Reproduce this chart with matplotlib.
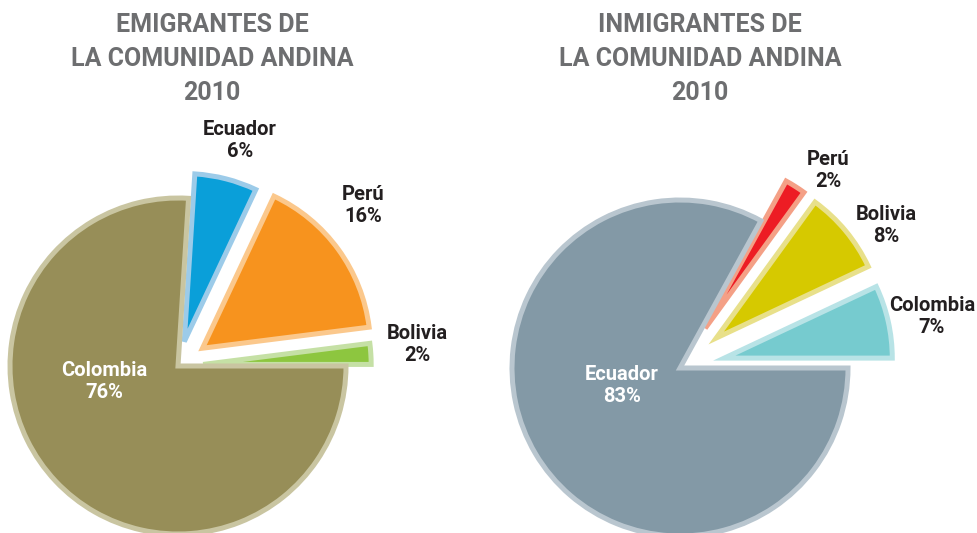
import numpy as np
import matplotlib
matplotlib.use('Agg')
import matplotlib.pyplot as plt

plt.rcParams['font.family'] = ['Roboto', 'DejaVu Sans']

# left chart: emigrants, counterclockwise from 3 o'clock
emi_labels = ['Bolivia', 'Perú', 'Ecuador', 'Colombia']
emi_values = [2, 16, 6, 76]
emi_title = 'EMIGRANTES DE\nLA COMUNIDAD ANDINA\n2010'

# right chart: immigrants
inm_labels = ['Colombia', 'Bolivia', 'Perú', 'Ecuador']
inm_values = [7, 8, 2, 83]
inm_title = 'INMIGRANTES DE\nLA COMUNIDAD ANDINA\n2010'

W, H = 978, 533
R = 168

emi_style = dict(
    center=(178, H - 366),
    explode=[0.15, 0.18, 0.15, 0.0],
    faces=['#8dc63f', '#f7931e', '#0a9fd9', '#978e58'],
    edges=['#c5e0a5', '#fbc88c', '#9ccbe9', '#c9c5a1'],
    # label placement: (angle shift in deg, distance in radii)
    lab=[(1.5, 1.43), (5, 1.46), (-1, 1.39), (-31, 0.45)],
    title_x=212,
)
inm_style = dict(
    center=(680, H - 368),
    explode=[0.27, 0.28, 0.28, 0.0],
    faces=['#76cbcf', '#d6c900', '#ed1c24', '#8399a6'],
    edges=['#b8e3e6', '#e8e08a', '#f4a086', '#b9c6cf'],
    lab=[(-1, 1.53), (-5, 1.49), (-4.5, 1.47), (-14, 0.36)],
    title_x=700,
)

fig = plt.figure(figsize=(W / 100, H / 100), dpi=100)
ax = fig.add_axes([0, 0, 1, 1])


def draw_pie(ax, labels, values, title, st):
    cx, cy = st['center']
    # pie adds explode straight to the centre, so scale it by the radius
    expl = [e * R for e in st['explode']]
    wedges, _ = ax.pie(values, explode=expl, colors=st['faces'],
                       startangle=0, counterclock=True, center=(cx, cy),
                       radius=R, frame=False,
                       wedgeprops=dict(linewidth=3.6, joinstyle='miter'))
    for w, ec in zip(wedges, st['edges']):
        w.set_edgecolor(ec)

    for i, (w, name, v) in enumerate(zip(wedges, labels, values)):
        mid = np.deg2rad((w.theta1 + w.theta2) / 2 + st['lab'][i][0])
        d = st['lab'][i][1] * R
        inside = d < R
        ax.text(cx + d * np.cos(mid), cy + d * np.sin(mid),
                '%s\n%d%%' % (name, v), ha='center', va='center',
                fontsize=14.5, fontweight='bold', linespacing=1.2,
                color='white' if inside else '#231f20')

    ax.text(st['title_x'], H - 59, title, ha='center', va='center',
            fontsize=18, fontweight='bold', color='#6d6e70',
            linespacing=1.55)


draw_pie(ax, emi_labels, emi_values, emi_title, emi_style)
draw_pie(ax, inm_labels, inm_values, inm_title, inm_style)

ax.set_xlim(0, W)
ax.set_ylim(0, H)
ax.set_aspect('equal')
ax.axis('off')

fig.savefig('out.png', dpi=100)
